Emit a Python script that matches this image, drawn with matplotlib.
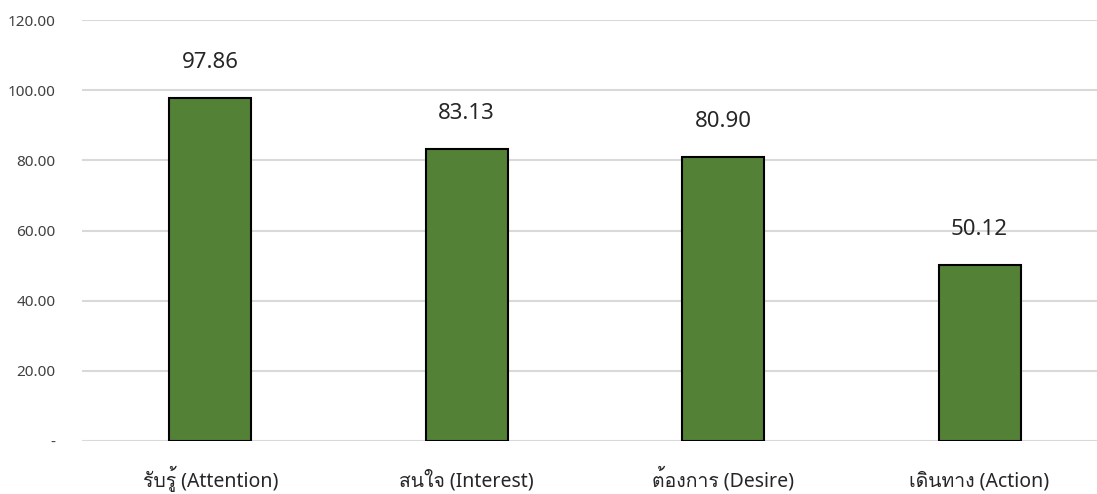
import matplotlib
matplotlib.use("Agg")
import matplotlib.pyplot as plt
from matplotlib import font_manager
from fontTools.ttLib import TTFont

# data
categories = ["รับรู้ (Attention)", "สนใจ (Interest)", "ต้องการ (Desire)", "เดินทาง (Action)"]
values = [97.86, 83.13, 80.90, 50.12]
yticks = [0, 20, 40, 60, 80, 100, 120]
ytick_labels = ["-", "20.00", "40.00", "60.00", "80.00", "100.00", "120.00"]

# look for any installed font that covers Thai
thai_fams = []
for f in font_manager.fontManager.ttflist:
    try:
        cmap = TTFont(f.fname, fontNumber=0, lazy=True).getBestCmap()
    except Exception:
        continue
    if cmap and 0x0E01 in cmap and f.name not in thai_fams:
        thai_fams.append(f.name)

plt.rcParams['font.family'] = ['Noto Sans'] + thai_fams + ['DejaVu Sans']

fig = plt.figure(figsize=(10.97, 4.94), dpi=100)
ax = fig.add_axes([0.0748, 0.1073, 0.9252, 0.852])

x = range(len(categories))
ax.bar(x, values, width=0.32, color="#538135", edgecolor="black", linewidth=1.5, zorder=3)

for xi, v in zip(x, values):
    ax.annotate(f"{v:.2f}", (xi, v), xytext=(0, 18), textcoords="offset points",
                ha="center", va="bottom", fontsize=16, color="#262626")

ax.set_ylim(0, 120)
ax.set_xlim(-0.5, 3.458)
ax.set_yticks(yticks)
ax.set_yticklabels(ytick_labels, fontsize=11, color="#404040")
ax.set_xticks(list(x))
ax.set_xticklabels(categories, fontsize=14, color="#262626", va="baseline")
ax.tick_params(axis="y", length=0, pad=19)
ax.tick_params(axis="x", length=0, pad=33)
ax.yaxis.grid(True, color="#d9d9d9", linewidth=1.5, zorder=0)
for s in ax.spines.values():
    s.set_visible(False)

fig.savefig("out.png", dpi=100)
